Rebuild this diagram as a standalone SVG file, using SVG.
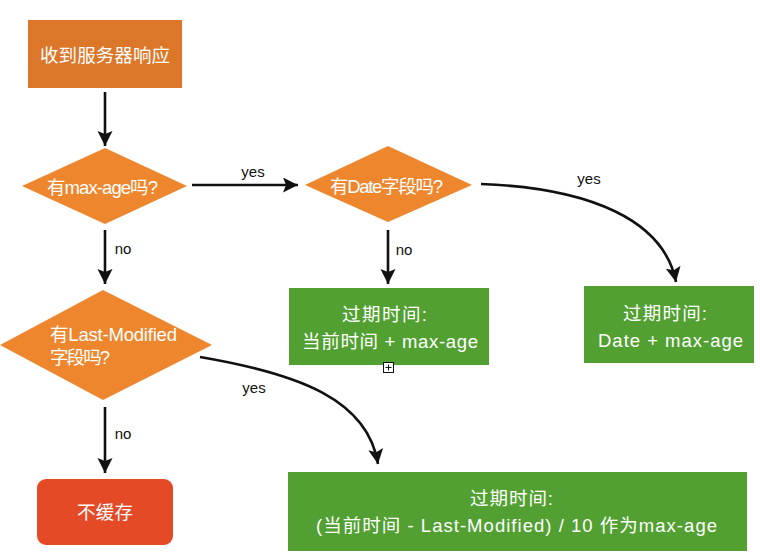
<svg xmlns="http://www.w3.org/2000/svg" width="760" height="559" viewBox="0 0 760 559">
<defs>
<style>
.t{font-family:"Liberation Sans","Noto Sans CJK SC",sans-serif;font-size:18.5px;fill:#ffffff;text-anchor:middle;dominant-baseline:central}
.s{text-anchor:start}
.l{font-family:"Liberation Sans","Noto Sans CJK SC",sans-serif;font-size:15px;fill:#111111;text-anchor:middle;dominant-baseline:central}
.c{fill:none;stroke:#111111;stroke-width:2.6}
.o{fill:#ee862d}
.g{fill:#52a032}
</style>
<marker id="ah" markerUnits="userSpaceOnUse" markerWidth="17" markerHeight="16" refX="15" refY="7.5" orient="auto">
<path d="M0,0 L15,7.5 L0,15 L3,7.5 Z" fill="#111111"/>
</marker>
</defs>
<rect width="760" height="559" fill="#ffffff"/>
<g id="connectors">
<path class="c" d="M105,92 L105,146" marker-end="url(#ah)"/>
<path class="c" d="M192,185 L298,185" marker-end="url(#ah)"/>
<text class="l" x="253" y="171">yes</text>
<path class="c" d="M105,230 L105,284" marker-end="url(#ah)"/>
<text class="l" x="123" y="248">no</text>
<path class="c" d="M388,230 L388,284" marker-end="url(#ah)"/>
<text class="l" x="404" y="249">no</text>
<path class="c" d="M481,184 C590,188 664,220 676,282" marker-end="url(#ah)"/>
<text class="l" x="589" y="178">yes</text>
<path class="c" d="M105,407 L105,473" marker-end="url(#ah)"/>
<text class="l" x="123" y="433">no</text>
<path class="c" d="M200,357 C300,374 368,400 378,464" marker-end="url(#ah)"/>
<text class="l" x="254" y="387">yes</text>
</g>
<g id="n-start">
<rect x="28" y="20" width="154" height="68" fill="#dc7629"/>
<text class="t" x="105" y="55" textLength="130">收到服务器响应</text>
</g>
<g id="n-maxage">
<polygon class="o" points="105,148 187,186 105,224 22,186"/>
<text class="t" x="102.5" y="187" textLength="111">有max-age吗?</text>
</g>
<g id="n-date">
<polygon class="o" points="388,146 472,185 388,222 305,185"/>
<text class="t" x="386.5" y="186" textLength="113">有Date字段吗?</text>
</g>
<g id="n-lastmod">
<polygon class="o" points="103,290 212,345 103,400 0,345"/>
<text class="t s" x="50" y="334" textLength="127">有Last-Modified</text>
<text class="t s" x="50" y="357" textLength="60">字段吗?</text>
</g>
<g id="n-exp1">
<rect class="g" x="289" y="288" width="200" height="77"/>
<text class="t" x="384.5" y="314" textLength="85">过期时间:</text>
<text class="t" x="390" y="341" textLength="176">当前时间 + max-age</text>
</g>
<g id="n-exp2">
<rect class="g" x="584" y="286" width="170" height="77"/>
<text class="t" x="665" y="313" textLength="84">过期时间:</text>
<text class="t" x="670.5" y="340" textLength="145">Date + max-age</text>
</g>
<g id="n-nocache">
<rect x="37" y="479" width="136" height="66" rx="9" fill="#e54a27"/>
<text class="t" x="105" y="512" textLength="56">不缓存</text>
</g>
<g id="n-exp3">
<rect class="g" x="288" y="472" width="459" height="79"/>
<text class="t" x="511.5" y="498" textLength="83">过期时间:</text>
<text class="t" x="516.5" y="525" textLength="401">(当前时间 - Last-Modified) / 10 作为max-age</text>
</g>
<g id="handle">
<rect x="383.5" y="362.5" width="10" height="10" fill="#ffffff" stroke="#111111" stroke-width="1"/>
<path d="M388.5,364.5 L388.5,370.5 M385.5,367.5 L391.5,367.5" stroke="#111111" stroke-width="1"/>
</g>
</svg>
